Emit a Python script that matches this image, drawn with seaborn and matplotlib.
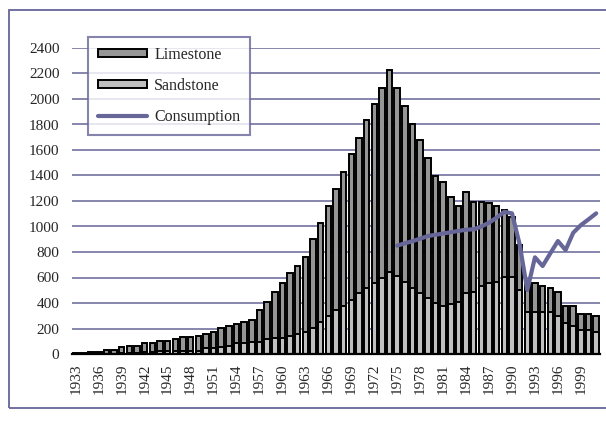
import numpy as np
import pandas as pd
import matplotlib
matplotlib.use("Agg")
import matplotlib.pyplot as plt
import seaborn as sns
from matplotlib.patches import Patch, Rectangle
from matplotlib.lines import Line2D

years = list(range(1933, 2002))
limestone = [5, 5, 11, 11, 26, 26, 47, 55, 55, 72, 72, 79, 73, 89, 104, 104, 119,
             116, 125, 147, 160, 154, 169, 173, 251, 295, 365, 429, 491, 538, 586,
             700, 771, 862, 946, 1053, 1144, 1216, 1321, 1405, 1491, 1584, 1472,
             1379, 1286, 1201, 1099, 999, 971, 841, 753, 796, 706, 661, 627, 595,
             528, 475, 352, 235, 224, 201, 188, 188, 139, 157, 125, 125, 130]
sandstone = [0, 0, 2, 2, 3, 3, 8, 10, 10, 12, 12, 20, 26, 26, 26, 26, 26,
             44, 50, 58, 62, 84, 84, 95, 97, 115, 123, 125, 141, 154, 172,
             201, 253, 300, 345, 376, 423, 476, 515, 554, 596, 642, 615,
             565, 517, 476, 441, 397, 379, 392, 410, 476, 488, 533, 554, 567,
             601, 601, 502, 332, 332, 332, 332, 300, 240, 222, 188, 188, 170]
cons_years = list(range(1975, 2002))
consumption = [850, 868, 885, 905, 925, 935, 945, 955, 965, 975, 978, 1000, 1030,
               1070, 1115, 1103, 860, 502, 758, 690, 789, 886, 815, 951, 1011,
               1056, 1103]
yticks = list(range(0, 2401, 200))
xtick_years = list(range(1933, 2000, 3))

df = pd.DataFrame({"year": [str(y) for y in years],
                   "limestone": limestone, "sandstone": sandstone})
df["total"] = df["limestone"] + df["sandstone"]

sns.set_style("white")
plt.rcParams["font.family"] = ["Liberation Serif", "DejaVu Serif"]

fig = plt.figure(figsize=(6.06, 4.23), dpi=100)
ax = fig.add_axes([72/606, 1-354/423, (600-72)/606, (354-48)/423])

grid_c = "#666699"
lime_c = "#969696"
sand_c = "#C0C0C0"

order = df["year"].tolist()
sns.barplot(data=df, x="year", y="total", order=order, color=lime_c,
            saturation=1, edgecolor="black", linewidth=1.4, width=0.72, ax=ax, zorder=2)
sns.barplot(data=df, x="year", y="sandstone", order=order, color=sand_c,
            saturation=1, edgecolor="black", linewidth=1.4, width=0.72, ax=ax, zorder=3)

cx = np.array(cons_years) - years[0]
sns.lineplot(x=cx, y=consumption, color=grid_c, linewidth=3, ax=ax, zorder=4)

ax.set_ylim(0, 2400)
ax.set_xlim(-0.5, len(years) - 0.5)
ax.set_yticks(yticks)
ax.set_yticklabels([str(v) for v in yticks], fontsize=11)
ax.yaxis.grid(True, color=grid_c, linewidth=1.1)
ax.set_axisbelow(True)
ax.tick_params(axis="y", length=0, pad=9)

xt = [y - years[0] for y in xtick_years]
ax.set_xticks(xt)
ax.set_xticklabels([str(y) for y in xtick_years], rotation=90, fontsize=11)
ax.tick_params(axis="x", which="major", length=0, pad=7)
ax.set_xticks(np.arange(-0.5, len(years), 1.0), minor=True)
ax.tick_params(axis="x", which="minor", length=4, width=1.3, color="black", direction="out")

for s in ["top", "right", "left"]:
    ax.spines[s].set_visible(False)
ax.spines["bottom"].set_color("black")
ax.spines["bottom"].set_linewidth(1.6)
ax.spines["bottom"].set_zorder(5)
ax.set_xlabel("")
ax.set_ylabel("")

handles = [Patch(facecolor=lime_c, edgecolor="black", linewidth=1.4, label="Limestone"),
           Patch(facecolor=sand_c, edgecolor="black", linewidth=1.4, label="Sandstone"),
           Line2D([0], [0], color=grid_c, linewidth=3, label="Consumption")]
leg = fig.legend(handles=handles, loc="upper left",
                 bbox_to_anchor=(88/606, 1-37/423), fontsize=11.5, borderaxespad=0,
                 frameon=True, fancybox=False, handlelength=3.1, handleheight=0.4,
                 labelspacing=0.95, borderpad=0.6, handletextpad=0.45)
leg.get_frame().set_edgecolor(grid_c)
leg.get_frame().set_linewidth(1.5)
leg.get_frame().set_facecolor("white")
leg.set_zorder(10)

fig.patches.append(Rectangle((9/606, 1-408/423), 1.2, (408-10)/423,
                             transform=fig.transFigure, fill=False,
                             edgecolor=grid_c, linewidth=1.3))

fig.savefig("out.png", dpi=100)
